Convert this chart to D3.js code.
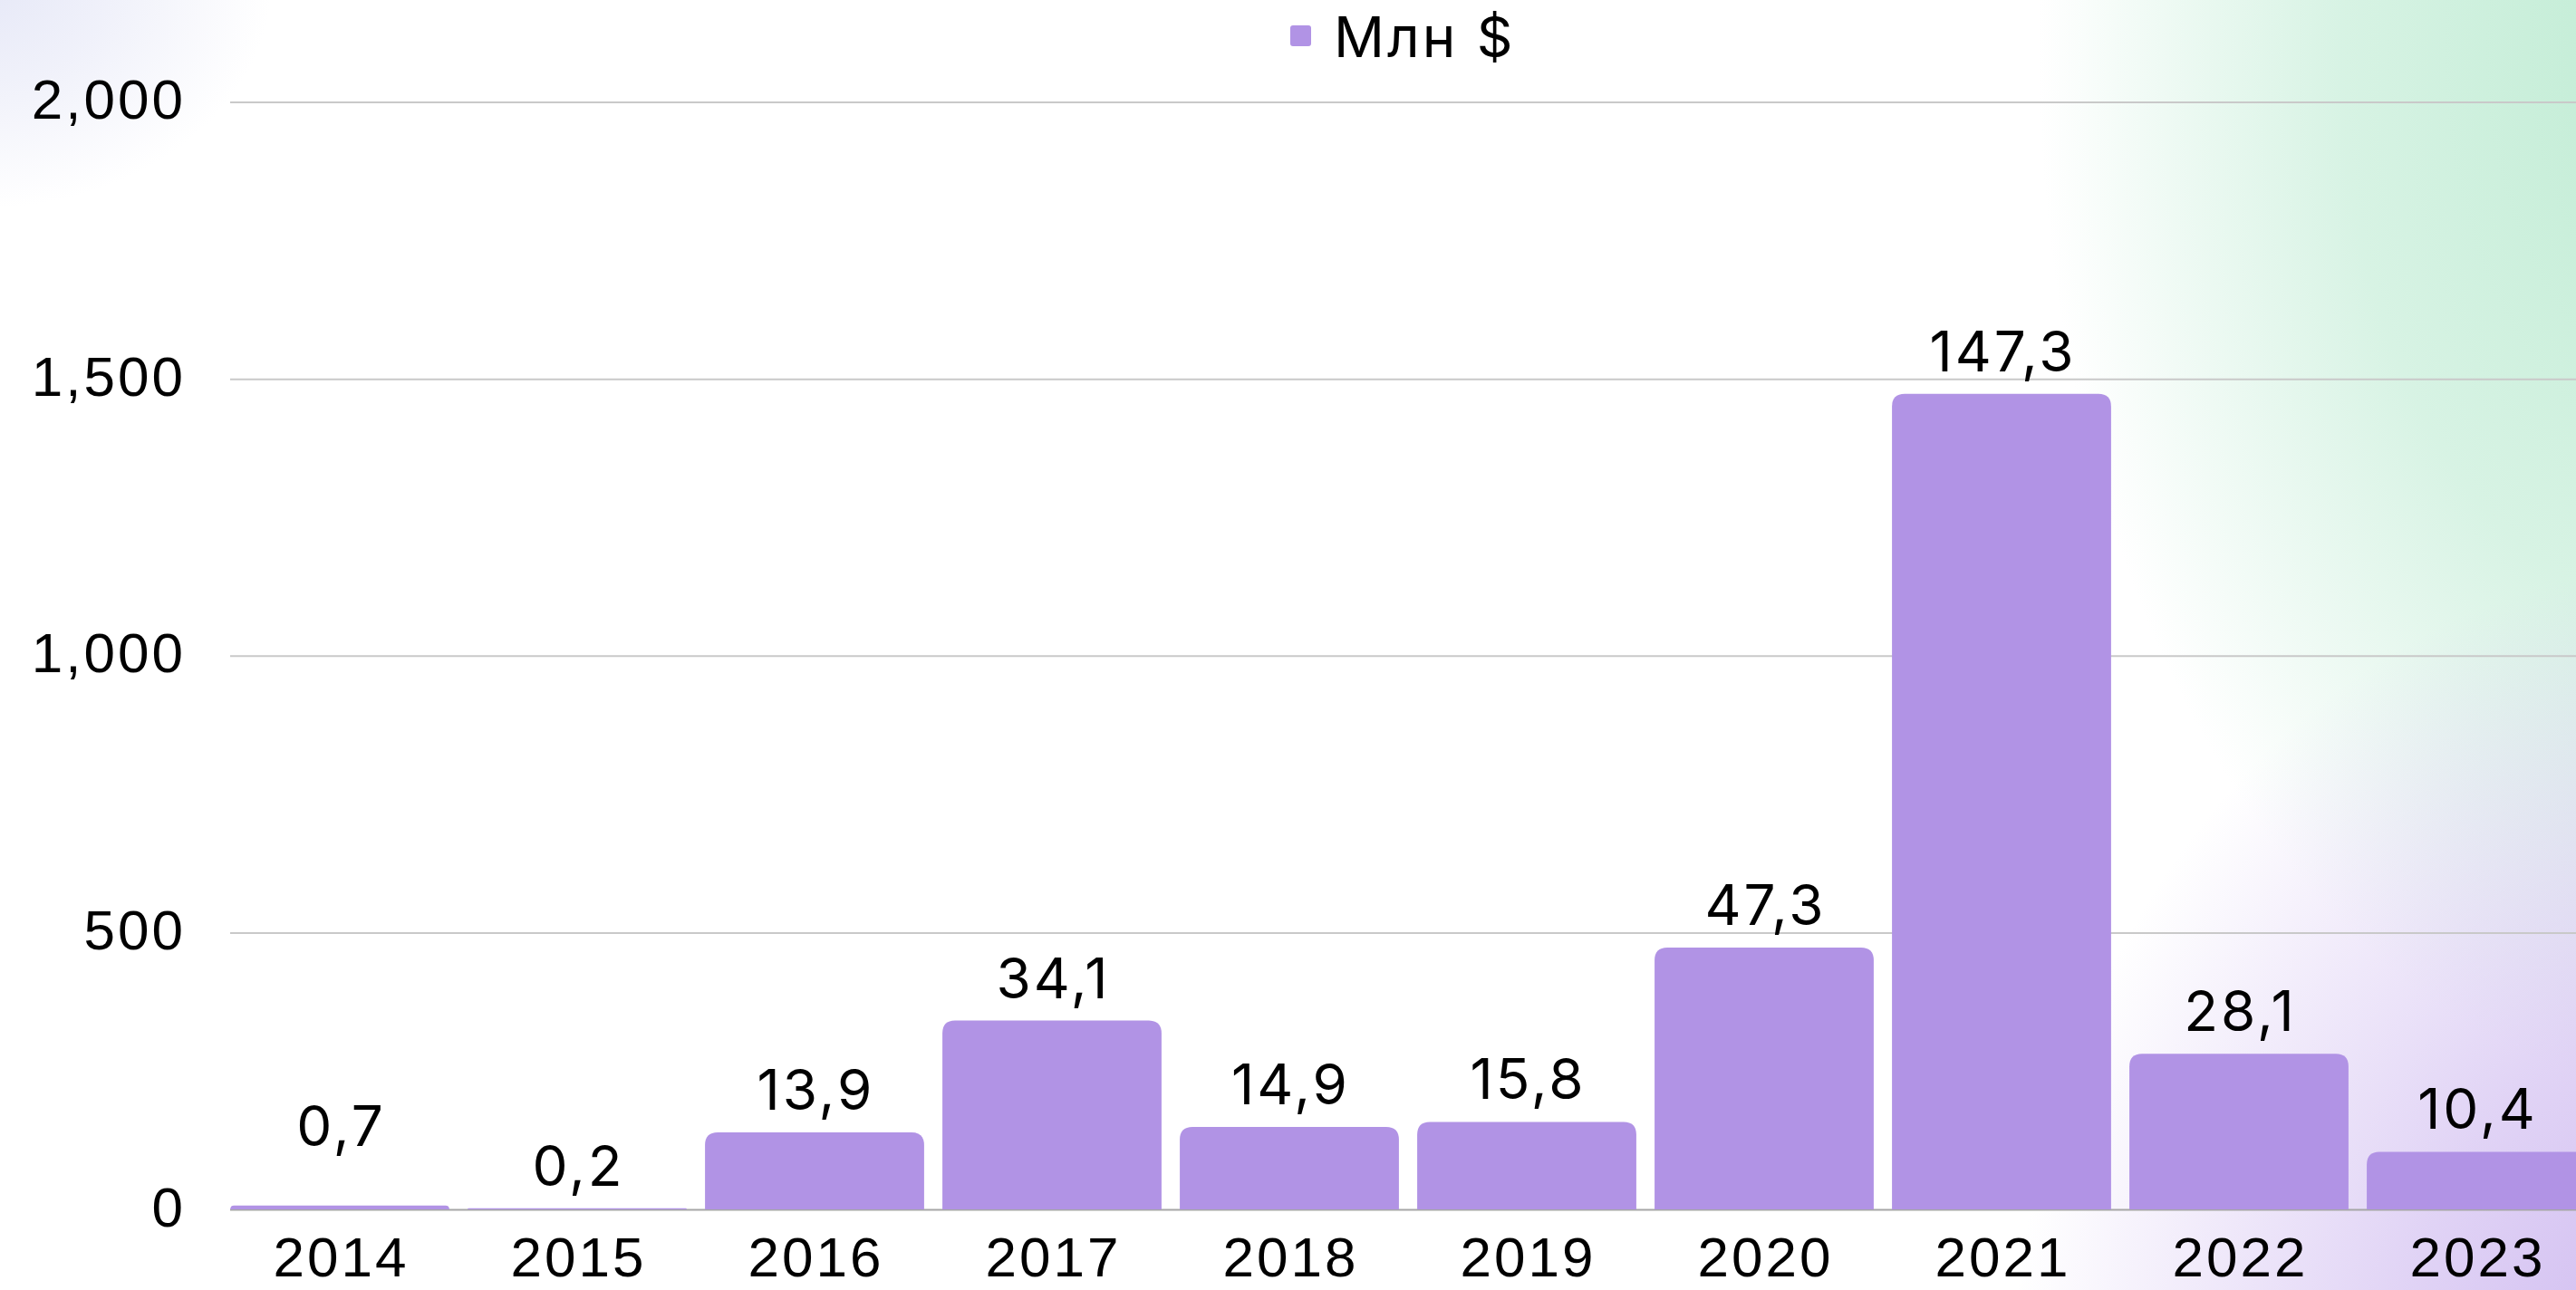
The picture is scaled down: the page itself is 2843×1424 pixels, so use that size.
<!DOCTYPE html>
<html>
<head>
<meta charset="utf-8">
<script src="https://cdn.jsdelivr.net/npm/d3@7"></script>
<style>
  html, body { margin: 0; padding: 0; background: #fff; overflow: hidden; }
  svg { display: block; font-family: Inter, "Open Sans", sans-serif; }
  .tick text { fill: #000; }
</style>
</head>
<body>
<svg id="chart" width="2843" height="1424"></svg>
<script>
// data
const years = ['2014', '2015', '2016', '2017', '2018', '2019', '2020', '2021', '2022', '2023']
const values = [7, 2, 139, 341, 149, 158, 473, 1473, 281, 104]
const yTicks = [0, 500, 1000, 1500, 2000]
const seriesName = 'Млн $'

const barColor = '#b193e5'
const fontSize = 62
const spacing = 3

let svg = d3.select('#chart')
let W = +svg.attr('width'), H = +svg.attr('height')

/* ---------- background glows ---------- */
let defs = svg.append('defs')
function glow(id, color, mid) {
    let g = defs.append('radialGradient').attr('id', id)
    g.append('stop').attr('offset', '0%').attr('stop-color', color).attr('stop-opacity', 1)
    g.append('stop').attr('offset', mid + '%').attr('stop-color', color).attr('stop-opacity', 0.6)
    g.append('stop').attr('offset', '100%').attr('stop-color', color).attr('stop-opacity', 0)
}
glow('g-green', '#bdebd2', 55)
glow('g-purple', '#ccb6ef', 45)
glow('g-grey', '#e6e8f7', 45)

svg.append('rect').attr('width', W).attr('height', H).attr('fill', '#fff')
svg.append('ellipse').attr('cx', 2990).attr('cy', 60).attr('rx', 740).attr('ry', 1150).attr('fill', 'url(#g-green)')
svg.append('ellipse').attr('cx', 2990).attr('cy', 1540).attr('rx', 770).attr('ry', 920).attr('fill', 'url(#g-purple)')
svg.append('ellipse').attr('cx', -20).attr('cy', -20).attr('rx', 320).attr('ry', 250).attr('fill', 'url(#g-grey)')

/* ---------- scales ---------- */
let x0 = 254, step = 262
let x = d3.scaleBand()
    .domain(years)
    .range([x0 - 10, x0 - 10 + step * years.length])
    .paddingInner(0.077)
    .paddingOuter(0.0385)

let y = d3.scaleLinear().domain([0, 2000]).range([1335, 112.5])

/* ---------- y axis + grid ---------- */
let yAxis = svg.append('g')
    .attr('transform', 'translate(' + x0 + ',0)')
    .call(d3.axisLeft(y)
        .tickValues(yTicks)
        .tickFormat(d3.format(','))
        .tickSizeInner(-(W - x0))
        .tickSizeOuter(0)
        .tickPadding(49))
yAxis.select('.domain').remove()
yAxis.selectAll('.tick line')
    .attr('stroke', function (d) { return d === 0 ? '#a6a6a6' : '#c9c9c9' })
    .attr('stroke-width', 2)
yAxis.selectAll('.tick text')
    .attr('font-size', fontSize)
    .attr('letter-spacing', spacing)
    .attr('dy', 18)

/* ---------- bars ---------- */
function topRounded(x0, y0, w, h, r) {
    r = Math.min(r, h, w / 2)
    return 'M' + x0 + ',' + (y0 + h) +
        'V' + (y0 + r) +
        'Q' + x0 + ',' + y0 + ' ' + (x0 + r) + ',' + y0 +
        'H' + (x0 + w - r) +
        'Q' + (x0 + w) + ',' + y0 + ' ' + (x0 + w) + ',' + (y0 + r) +
        'V' + (y0 + h) + 'Z'
}

let data = years.map(function (yr, i) { return { year: yr, value: values[i] } })

svg.append('g').selectAll('path')
    .data(data)
    .enter().append('path')
    .attr('fill', barColor)
    .attr('d', function (d) {
        return topRounded(x(d.year), y(d.value), x.bandwidth(), y(0) - y(d.value), 14)
    })

/* ---------- value labels ---------- */
let fmt = d3.format('.1f')
svg.append('g').selectAll('text')
    .data(data)
    .enter().append('text')
    .attr('x', function (d) { return x(d.year) + x.bandwidth() / 2 + spacing / 2 })
    .attr('y', function (d) { return y(d.value) - (d.year === '2014' ? 66 : 25) })
    .attr('text-anchor', 'middle')
    .attr('font-size', fontSize)
    .attr('letter-spacing', spacing)
    .attr('fill', '#000')
    .text(function (d) { return fmt(d.value / 10).replace('.', ',') })

/* ---------- x axis ---------- */
let xAxis = svg.append('g')
    .attr('transform', 'translate(' + spacing / 2 + ',' + y(0) + ')')
    .call(d3.axisBottom(x).tickSize(0).tickPadding(30))
xAxis.select('.domain').remove()
xAxis.selectAll('.tick text')
    .attr('font-size', fontSize)
    .attr('letter-spacing', spacing)

/* ---------- legend ---------- */
let legend = svg.append('g')
legend.append('rect')
    .attr('x', 1424).attr('y', 28)
    .attr('width', 23).attr('height', 23)
    .attr('rx', 3)
    .attr('fill', barColor)
legend.append('text')
    .attr('x', 1472).attr('y', 63)
    .attr('font-size', fontSize)
    .attr('letter-spacing', spacing)
    .attr('fill', '#000')
    .text(seriesName)
</script>
</body>
</html>
